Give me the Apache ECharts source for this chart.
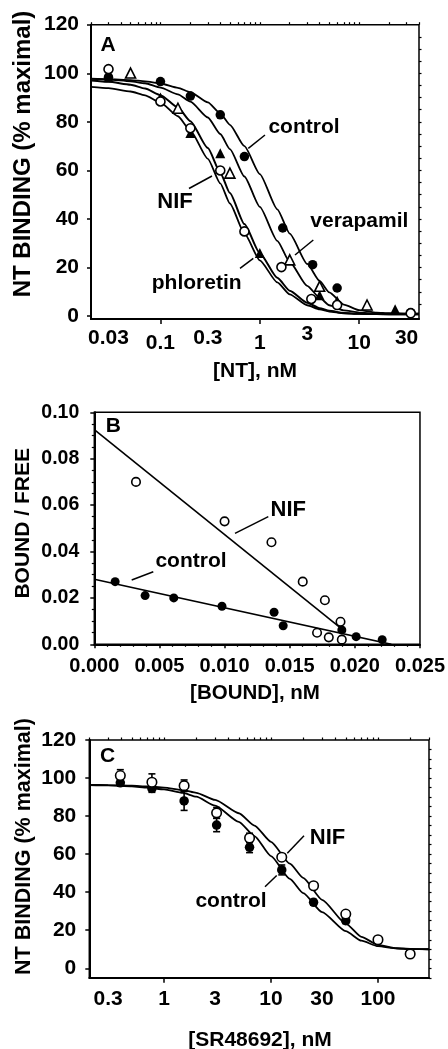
<!DOCTYPE html>
<html><head><meta charset="utf-8">
<script src="https://cdn.jsdelivr.net/npm/echarts@6/dist/echarts.min.js"></script>
<style>html,body{margin:0;padding:0;background:#fff}#c{width:448px;height:1049px}</style>
</head><body><div id="c"></div>
<script>
// ---------- Panel A ----------
const aXTicks = [0.03, 0.1, 0.3, 1, 3, 10, 30];
const aYTicks = [0, 20, 40, 60, 80, 100, 120];
const aCtrlX = [0.03, 0.1, 0.2, 0.4, 0.7, 1.7, 3.4, 6, 33];
const aCtrlY = [98.4, 96.6, 90.6, 82.9, 65.7, 36.3, 21.2, 11.6, 1.5];
const aPhlX = [0.03, 0.1, 0.2, 0.4, 1, 4, 6, 23];
const aPhlY = [98.4, 90, 75.4, 67.1, 26, 8.6, 6.4, 2.9];
const aVerX = [0.05, 0.15, 0.5, 2, 4, 12];
const aVerY = [100.1, 85.6, 58.9, 23.2, 12.3, 4.6];
const aNifX = [0.03, 0.1, 0.2, 0.4, 0.7, 1.65, 3.3, 6, 33];
const aNifY = [101.7, 88.4, 77.4, 60, 34.9, 20.2, 7.1, 4.6, 1.2];
const aCurveX = [0.02, 0.03, 0.05, 0.07, 0.1, 0.15, 0.2, 0.3, 0.4, 0.5, 0.7, 1, 1.5, 2, 3, 4, 5, 7, 10, 15, 20, 30, 40];
const aCtrlCurve = [97.8, 97.6, 97.2, 96.7, 95.8, 94, 92.2, 88, 83.5, 78.8, 70, 58.5, 44, 34, 21.5, 14.5, 9.8, 4.8, 2.5, 1.5, 1.2, 1, 1];
const aVerCurve = [97.7, 97.4, 96.7, 95.9, 94.1, 91.3, 88.3, 81.8, 75, 68.8, 57.5, 45, 31, 22.3, 12.5, 7.6, 4.5, 2.4, 1.5, 1.1, 1, 1, 1];
const aNifCurve = [94.4, 93.9, 92.5, 90.9, 87.9, 82.3, 76.4, 64.8, 54.7, 46.4, 34.1, 23, 13.9, 9, 4.5, 2.8, 1.9, 1.2, 0.95, 0.85, 0.8, 0.8, 0.8];
const aPhlCurve = [97, 96.5, 95.3, 93.7, 91, 85.9, 80.3, 69.2, 59.1, 50.7, 37.9, 25.9, 15.8, 10.5, 5.5, 3.3, 2.2, 1.3, 1, 0.85, 0.8, 0.8, 0.8];

// ---------- Panel B ----------
const bNifX = [0.0032, 0.010, 0.0136, 0.016, 0.0177, 0.0189, 0.0171, 0.018, 0.019];
const bNifY = [0.070, 0.053, 0.044, 0.027, 0.019, 0.0097, 0.005, 0.003, 0.002];
const bCtrlX = [0.0016, 0.0039, 0.0061, 0.0098, 0.0138, 0.0145, 0.019, 0.0201, 0.0221];
const bCtrlY = [0.027, 0.021, 0.020, 0.0164, 0.0138, 0.008, 0.0062, 0.0033, 0.002];
const bNifLineX = [0, 0.0193];
const bNifLineY = [0.0925, 0.0052];
const bCtrlLineX = [0, 0.0228];
const bCtrlLineY = [0.028, 0];

// ---------- Panel C ----------
const cXTicks = [0.3, 1, 3, 10, 30, 100, 200];
const cYTicks = [0, 20, 40, 60, 80, 100, 120];
const cCtrlX = [0.39, 0.77, 1.54, 3.1, 6.3, 12.6, 25, 50, 200];
const cCtrlY = [97.5, 94.5, 88, 75.3, 63.6, 51.7, 34.7, 25, 8];
const cCtrlErr = [1.5, 2, 5, 3.5, 2.8, 2.6, 1.5, 1.5, 1];
const cNifX = [0.39, 0.77, 1.54, 3.1, 6.3, 12.6, 25, 50, 100, 200];
const cNifY = [101.3, 97.8, 96, 81.7, 68.5, 58.4, 43.4, 28.5, 15, 7.5];
const cNifErr = [3.1, 4.4, 3, 2.8, 2.5, 1.5, 1.5, 1.5, 1, 1];
const cCurveX = [0.2, 0.3, 0.5, 0.7, 1, 1.5, 2, 3, 5, 7, 10, 15, 20, 30, 50, 70, 100, 150, 200, 300];
const cCtrlCurve = [96.3, 96.1, 95.6, 95, 94, 92.2, 90.2, 85.5, 77, 69.5, 59, 47, 39.5, 29.5, 19.5, 14.5, 11.6, 10.4, 10.1, 10];
const cNifCurve = [96.4, 96.3, 96, 95.6, 95, 93.7, 92.2, 88.5, 81.5, 75, 66.5, 55, 47.5, 36, 23.5, 16.5, 12.3, 10.6, 10.2, 10];

// ---------- helpers ----------
const L = Math.log10;
const FONT = '"Liberation Sans", Arial, Helvetica, sans-serif';
const pts = (xs, ys, lg) => xs.map((x, i) => [lg ? L(x) : x, ys[i]]);
const errPts = (xs, ys, es) => xs.map((x, i) => [L(x), ys[i], es[i]]);
function minorLog(lo, hi) {
  const out = [];
  for (let d = -3; d <= 3; d++) for (let m = 1; m <= 9; m++) {
    const v = m * Math.pow(10, d);
    if (v >= lo * 0.999 && v <= hi * 1.001) out.push(L(v));
  }
  return out;
}
function majorLog(lo, hi) {
  const out = [];
  for (let d = -3; d <= 3; d++) { const v = Math.pow(10, d); if (v >= lo && v <= hi) out.push(d); }
  return out;
}
function stepVals(lo, hi, st) { const o = []; for (let v = lo; v <= hi + 1e-9; v += st) o.push(+v.toFixed(6)); return o; }

const axLine = { show: true, onZero: false, lineStyle: { color: '#000', width: 2 } };
const noLine = { show: false, onZero: false };
const lblBase = (size, margin) => ({ color: '#000', fontFamily: FONT, fontWeight: 'bold', fontSize: size, margin });

function logLabelFmt(ticks, levels) {
  return function (v) {
    let best = ticks[0], bd = 1e9;
    ticks.forEach(t => { const d = Math.abs(L(t) - v); if (d < bd) { bd = d; best = t; } });
    const lv = levels ? levels[String(best)] || 'm' : 'm';
    return '{' + lv + '|' + best + '}';
  };
}

const aRange = [0.02, 40], cRange = [0.2, 300];
const rs = (pad) => ({ fontSize: 21, fontWeight: 'bold', fontFamily: FONT, color: '#000', padding: [pad, 0, 0, 0] });

const xAxis = [
  { type: 'value', gridIndex: 0, min: L(aRange[0]), max: L(aRange[1]), axisLine: axLine, splitLine: { show: false },
    axisTick: { show: true, customValues: majorLog(aRange[0], aRange[1]), length: 5, lineStyle: { color: '#000', width: 1.5 } },
    axisLabel: Object.assign(lblBase(21, 5), { customValues: aXTicks.map(L),
      formatter: logLabelFmt(aXTicks, { '3': 'h', '0.03': 'm', '0.3': 'm', '30': 'm', '0.1': 'l', '1': 'l', '10': 'l' }),
      rich: { h: rs(0), m: rs(3.5), l: rs(9) } }) },
  { type: 'value', gridIndex: 0, min: L(aRange[0]), max: L(aRange[1]), axisLine: noLine, splitLine: { show: false },
    axisLabel: { show: false }, axisTick: { show: true, customValues: minorLog(aRange[0], aRange[1]), length: 2.5, lineStyle: { color: '#000', width: 1.2 } } },
  { type: 'value', gridIndex: 1, min: 0, max: 0.025, interval: 0.005, axisLine: axLine, splitLine: { show: false },
    axisTick: { show: true, length: 4, lineStyle: { color: '#000', width: 1.5 } },
    minorTick: { show: true, splitNumber: 5, length: 2.5, lineStyle: { color: '#000', width: 1.2 } },
    axisLabel: Object.assign(lblBase(20, 12), { formatter: v => v.toFixed(3) }) },
  { type: 'value', gridIndex: 2, min: L(cRange[0]), max: L(cRange[1]), axisLine: axLine, splitLine: { show: false },
    axisTick: { show: true, customValues: majorLog(cRange[0], cRange[1]), length: 5, lineStyle: { color: '#000', width: 1.5 } },
    axisLabel: Object.assign(lblBase(21, 10.5), { customValues: cXTicks.map(L), formatter: logLabelFmt(cXTicks, null),
      rich: { m: rs(0) } }) },
  { type: 'value', gridIndex: 2, min: L(cRange[0]), max: L(cRange[1]), axisLine: noLine, splitLine: { show: false },
    axisLabel: { show: false }, axisTick: { show: true, customValues: minorLog(cRange[0], cRange[1]), length: 2.5, lineStyle: { color: '#000', width: 1.2 } } }
];

const yAxis = [
  { type: 'value', gridIndex: 0, min: -1.2, max: 120, axisLine: axLine, splitLine: { show: false },
    axisTick: { show: true, customValues: aYTicks, length: 4, lineStyle: { color: '#000', width: 1.5 } },
    axisLabel: Object.assign(lblBase(21, 12), { customValues: aYTicks }) },
  { type: 'value', gridIndex: 0, min: -1.2, max: 120, axisLine: noLine, splitLine: { show: false },
    axisLabel: { show: false }, axisTick: { show: true, customValues: stepVals(5, 115, 5), length: 2.5, lineStyle: { color: '#000', width: 1.2 } } },
  { type: 'value', gridIndex: 1, min: 0, max: 0.10, interval: 0.02, axisLine: axLine, splitLine: { show: false },
    axisTick: { show: true, length: 4, lineStyle: { color: '#000', width: 1.5 } },
    minorTick: { show: true, splitNumber: 4, length: 2.5, lineStyle: { color: '#000', width: 1.2 } },
    axisLabel: Object.assign(lblBase(19.5, 15), { formatter: v => v.toFixed(2) }) },
  { type: 'value', gridIndex: 2, min: -5, max: 120, axisLine: axLine, splitLine: { show: false },
    axisTick: { show: true, customValues: cYTicks, length: 4, lineStyle: { color: '#000', width: 1.5 } },
    axisLabel: Object.assign(lblBase(21, 13), { customValues: cYTicks }) },
  { type: 'value', gridIndex: 2, min: -5, max: 120, axisLine: noLine, splitLine: { show: false },
    axisLabel: { show: false }, axisTick: { show: true, customValues: stepVals(-5, 115, 5), length: 2.5, lineStyle: { color: '#000', width: 1.2 } } }
];

const curve = (data, xi, yi, w) => ({ type: 'line', xAxisIndex: xi, yAxisIndex: yi, data, symbol: 'none',
  smooth: 0.2, smoothMonotone: 'x', lineStyle: { color: '#000', width: w || 1.8 }, silent: true, z: 2 });
const scat = (data, xi, yi, sym, size, open) => ({ type: 'scatter', xAxisIndex: xi, yAxisIndex: yi, data, symbol: sym, symbolSize: size,
  itemStyle: open ? { color: '#fff', borderColor: '#000', borderWidth: 1.6, opacity: 1 } : { color: '#000', opacity: 1 }, z: 4 });

function errRender(params, api) {
  const x = api.value(0), y = api.value(1), e = api.value(2);
  const t = api.coord([x, y + e]), b = api.coord([x, y - e]);
  const cw = 3.5, st = { stroke: '#000', lineWidth: 1.6 };
  return { type: 'group', children: [
    { type: 'line', shape: { x1: t[0], y1: t[1], x2: b[0], y2: b[1] }, style: st },
    { type: 'line', shape: { x1: t[0] - cw, y1: t[1], x2: t[0] + cw, y2: t[1] }, style: st },
    { type: 'line', shape: { x1: b[0] - cw, y1: b[1], x2: b[0] + cw, y2: b[1] }, style: st }
  ] };
}
const errSeries = (data, z) => ({ type: 'custom', xAxisIndex: 3, yAxisIndex: 3, coordinateSystem: 'cartesian2d',
  data, renderItem: errRender, encode: { x: 0, y: 1 }, z, silent: true });

const series = [
  curve(pts(aCurveX, aCtrlCurve, true), 0, 0),
  curve(pts(aCurveX, aVerCurve, true), 0, 0),
  curve(pts(aCurveX, aNifCurve, true), 0, 0),
  curve(pts(aCurveX, aPhlCurve, true), 0, 0, 2),
  scat(pts(aCtrlX, aCtrlY, true), 0, 0, 'circle', 9.5, false),
  scat(pts(aPhlX, aPhlY, true), 0, 0, 'triangle', 10, false),
  scat(pts(aVerX, aVerY, true), 0, 0, 'triangle', 10, true),
  scat(pts(aNifX, aNifY, true), 0, 0, 'circle', 9, true),

  { type: 'line', xAxisIndex: 2, yAxisIndex: 2, data: pts(bNifLineX, bNifLineY, false), symbol: 'none', lineStyle: { color: '#000', width: 1.6 }, z: 2 },
  { type: 'line', xAxisIndex: 2, yAxisIndex: 2, data: pts(bCtrlLineX, bCtrlLineY, false), symbol: 'none', lineStyle: { color: '#000', width: 1.6 }, z: 2 },
  scat(pts(bNifX, bNifY, false), 2, 2, 'circle', 8.5, true),
  scat(pts(bCtrlX, bCtrlY, false), 2, 2, 'circle', 9, false),

  curve(pts(cCurveX, cCtrlCurve, true), 3, 3),
  curve(pts(cCurveX, cNifCurve, true), 3, 3),
  errSeries(errPts(cCtrlX, cCtrlY, cCtrlErr), 3),
  scat(pts(cCtrlX, cCtrlY, true), 3, 3, 'circle', 9.5, false),
  errSeries(errPts(cNifX, cNifY, cNifErr), 5),
  Object.assign(scat(pts(cNifX, cNifY, true), 3, 3, 'circle', 9.5, true), { z: 6 })
];

const txt = (text, x, y, size, rot) => ({ type: 'text', x, y, rotation: rot || 0, silent: true,
  style: { text, font: 'bold ' + size + 'px ' + FONT, fill: '#000', align: 'center', verticalAlign: 'middle' } });
const ln = (x1, y1, x2, y2) => ({ type: 'line', silent: true, shape: { x1, y1, x2, y2 }, style: { stroke: '#000', lineWidth: 1.5 } });

const graphic = [
  txt('NT BINDING (% maximal)', 23.5, 154, 24, Math.PI / 2),
  txt('[NT], nM', 255, 371.7, 21),
  txt('A', 108, 45, 21),
  txt('control', 304, 127.7, 21), ln(248.3, 148.3, 265, 135),
  txt('NIF', 175, 201.7, 22), ln(189, 188.5, 212, 176),
  txt('verapamil', 359.3, 221.7, 21), ln(295, 255, 313.3, 240),
  txt('phloretin', 196.7, 283.3, 21), ln(240, 268.3, 253.3, 258.3),

  txt('BOUND / FREE', 23.3, 523.3, 21, Math.PI / 2),
  txt('[BOUND], nM', 255, 693, 20.5),
  txt('B', 113.3, 426.7, 21),
  txt('NIF', 288.3, 510, 22), ln(235, 533.3, 268.3, 516.7),
  txt('control', 191, 561, 21), ln(131.7, 580, 153.3, 571.7),

  txt('NT BINDING (% maximal)', 24, 846.5, 21.5, Math.PI / 2),
  txt('[SR48692], nM', 260, 1040, 21),
  txt('C', 107.7, 756.7, 21),
  txt('NIF', 327.5, 837.5, 22), ln(287.3, 853.3, 304, 835.7),
  txt('control', 231, 901.7, 21), ln(265, 886.7, 276.7, 875.5)
];

const chart = echarts.init(document.getElementById('c'), null, { renderer: 'canvas' });
chart.setOption({
  animation: false,
  backgroundColor: '#fff',
  grid: [
    { left: 91, top: 24.7, width: 328, height: 294.4, show: true, borderColor: '#000', borderWidth: 1.5 },
    { left: 94.3, top: 412.3, width: 326.4, height: 232, show: true, borderColor: '#000', borderWidth: 1.5 },
    { left: 89.3, top: 740, width: 339.7, height: 237.8, show: true, borderColor: '#000', borderWidth: 1.5 }
  ],
  xAxis, yAxis, series, graphic
});
</script></body></html>
